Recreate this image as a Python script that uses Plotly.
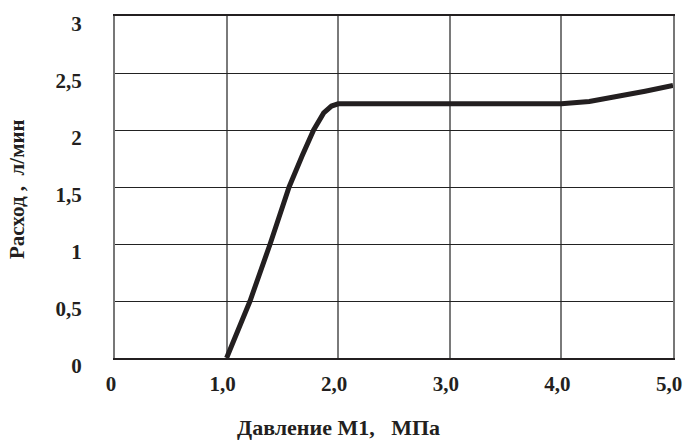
import plotly.graph_objects as go

# Data
pressure = [1.0, 1.21, 1.39, 1.56, 1.68, 1.78, 1.87, 1.94, 2.0, 3.0, 4.0, 4.25, 4.5, 4.75, 5.0]
flow = [0.0, 0.5, 1.0, 1.5, 1.78, 2.0, 2.15, 2.21, 2.23, 2.23, 2.23, 2.25, 2.29, 2.34, 2.39]

x_tickvals = [0, 1, 2, 3, 4, 5]
x_ticktext = ["0", "1,0", "2,0", "3,0", "4,0", "5,0"]
y_tickvals = [0, 0.5, 1, 1.5, 2, 2.5, 3]
y_ticktext = ["0", "0,5", "1", "1,5", "2", "2,5", "3"]

x_title = "Давление М1,   МПа"
y_title = "Расход ,  л/мин"

FONT = "Liberation Serif"
INK = "#231f20"

fig = go.Figure()
fig.add_trace(go.Scatter(
    x=pressure, y=flow, mode="lines",
    line=dict(color=INK, width=5),
    hoverinfo="skip", showlegend=False,
))

fig.update_layout(
    width=683, height=443,
    margin=dict(l=115, r=10, t=16, b=85, autoexpand=False),
    paper_bgcolor="white", plot_bgcolor="white",
    font=dict(family=FONT, size=21, color=INK),
    showlegend=False,
    xaxis=dict(
        range=[0, 5], tickvals=x_tickvals, ticktext=x_ticktext,
        automargin=False,
        showgrid=True, gridcolor="#7a7a7a", gridwidth=1.5,
        showline=True, linecolor=INK, linewidth=2, mirror=True,
        zeroline=False, ticks="outside", ticklen=0,
        ticklabelstandoff=6, ticklabelshift=-4, ticklabeloverflow="allow",
        tickfont=dict(family=FONT, size=21, color=INK, weight="bold"),
    ),
    yaxis=dict(
        range=[0, 3], tickvals=y_tickvals, ticktext=y_ticktext,
        automargin=False,
        showgrid=True, gridcolor="#222222", gridwidth=1,
        showline=True, linecolor="#777777", linewidth=2, mirror=True,
        zeroline=False, ticks="outside", ticklen=0,
        ticklabelstandoff=27, ticklabelshift=8, ticklabeloverflow="allow",
        tickfont=dict(family=FONT, size=21, color=INK, weight="bold"),
    ),
    annotations=[
        dict(text="<b>" + x_title + "</b>", xref="paper", yref="paper",
             x=(338 - 115) / 558, y=-(427 - 358) / 342, xanchor="center", yanchor="middle",
             showarrow=False, font=dict(family=FONT, size=22, color=INK)),
        dict(text="<b>" + y_title + "</b>", xref="paper", yref="paper",
             x=-(115 - 17) / 558, y=(358 - 189) / 342, xanchor="center", yanchor="middle",
             textangle=-90, showarrow=False, font=dict(family=FONT, size=21, color=INK)),
    ],
)

fig.write_html(
    "out.html",
    config={"displayModeBar": False},
    post_script="document.documentElement.style.margin='0';document.body.style.margin='0';document.body.style.overflow='hidden';",
)
